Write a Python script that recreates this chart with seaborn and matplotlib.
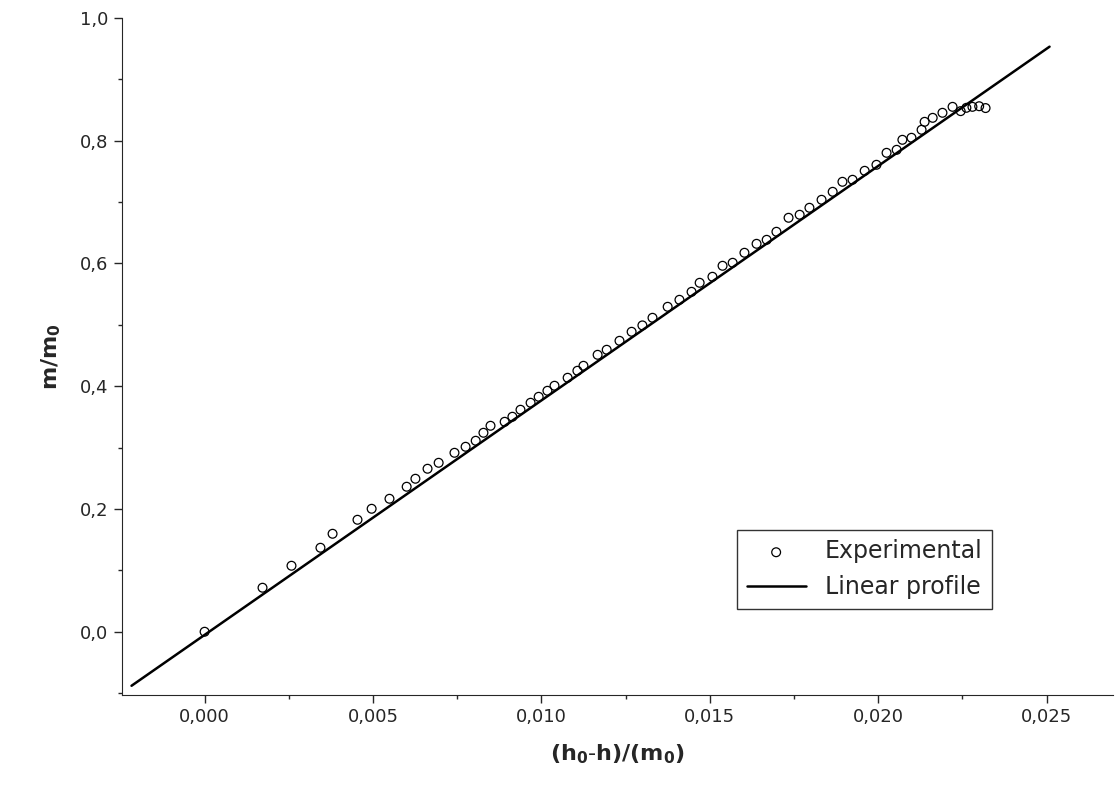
import numpy as np
import pandas as pd
import matplotlib.pyplot as plt
import seaborn as sns
from matplotlib.ticker import FuncFormatter, MultipleLocator

# experimental points
x_exp = [0.0, 0.00172, 0.00258, 0.00344, 0.00380, 0.00454, 0.00496, 0.00549, 0.00600,
         0.00626, 0.00662, 0.00695, 0.00742, 0.00775, 0.00805, 0.00828, 0.00849, 0.00891,
         0.00914, 0.00938, 0.00968, 0.00992, 0.01018, 0.01039, 0.01078, 0.01107, 0.01125,
         0.01167, 0.01194, 0.01232, 0.01268, 0.01300, 0.01330, 0.01375, 0.01410, 0.01446,
         0.01470, 0.01508, 0.01538, 0.01568, 0.01603, 0.01639, 0.01669, 0.01698, 0.01734,
         0.01767, 0.01796, 0.01832, 0.01865, 0.01894, 0.01924, 0.01960, 0.01995, 0.02025,
         0.02055, 0.02072, 0.02099, 0.02129, 0.02138, 0.02162, 0.02191, 0.02221, 0.02245,
         0.02262, 0.02280, 0.02300, 0.02319]
y_exp = [0.0, 0.0717, 0.1075, 0.1368, 0.1596, 0.1824, 0.2003, 0.2166, 0.2362,
         0.2492, 0.2655, 0.2752, 0.2915, 0.3013, 0.3111, 0.3241, 0.3355, 0.3420,
         0.3502, 0.3616, 0.3730, 0.3827, 0.3925, 0.4007, 0.4137, 0.4251, 0.4332,
         0.4511, 0.4593, 0.4739, 0.4886, 0.4990, 0.5114, 0.5293, 0.5407, 0.5537,
         0.5684, 0.5782, 0.5961, 0.6010, 0.6173, 0.6319, 0.6384, 0.6515, 0.6743,
         0.6792, 0.6906, 0.7036, 0.7166, 0.7329, 0.7362, 0.7508, 0.7606, 0.7801,
         0.7850, 0.8013, 0.8046, 0.8176, 0.8306, 0.8371, 0.8453, 0.8550, 0.8480,
         0.8534, 0.8550, 0.8560, 0.8530]

# linear profile end points
x_lin = [-0.00217, 0.02509]
y_lin = [-0.088, 0.953]

sns.set_style("ticks")
plt.rcParams['font.family'] = ['DejaVu Sans']

fig = plt.figure(figsize=(11.17, 8.10), dpi=100)
ax = fig.add_axes([0.109, 0.142, 0.887, 0.836])

exp = pd.DataFrame({'x': x_exp, 'y': y_exp})
lin = pd.DataFrame({'x': x_lin, 'y': y_lin})
sns.scatterplot(data=exp, x='x', y='y', ax=ax, marker='o', s=40,
                facecolor='none', edgecolor='black', linewidth=0.9, label='Experimental')
sns.lineplot(data=lin, x='x', y='y', ax=ax, color='black', linewidth=1.8, label='Linear profile')

ax.set_xlim(-0.00246, 0.02696)
ax.set_ylim(-0.103, 1.0)
ax.xaxis.set_major_locator(MultipleLocator(0.005))
ax.xaxis.set_minor_locator(MultipleLocator(0.0025))
ax.yaxis.set_major_locator(MultipleLocator(0.2))
ax.yaxis.set_minor_locator(MultipleLocator(0.1))
ax.xaxis.set_major_formatter(FuncFormatter(lambda v, p: f"{v:.3f}".replace('.', ',')))
ax.yaxis.set_major_formatter(FuncFormatter(lambda v, p: f"{v:.1f}".replace('.', ',')))
ax.tick_params(which='major', length=6, width=1, labelsize=13, direction='out')
ax.tick_params(which='minor', length=3, width=1, direction='out')
sns.despine(ax=ax)

ax.set_xlabel(r'$\mathbf{(h_0\text{-}h)/(m_0)}$', fontsize=16, labelpad=12)
ax.set_ylabel(r'$\mathbf{m/m_0}$', fontsize=16, labelpad=12)

leg = ax.legend(loc='lower right', bbox_to_anchor=(0.89, 0.11), fontsize=17,
                frameon=True, fancybox=False, edgecolor='black', handlelength=2.5)
leg.get_frame().set_linewidth(1.0)

fig.savefig('out.png', dpi=100)
